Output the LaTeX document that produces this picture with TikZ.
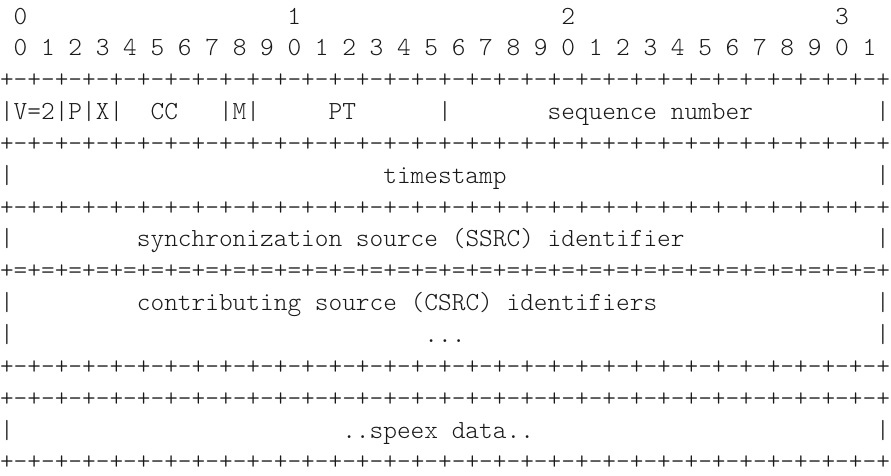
\documentclass[tikz,border=0pt]{standalone}
\usepackage{fontspec}
\newfontfamily\lmlight{lmmonolt10-regular.otf}
\tikzset{
  mono/.style={anchor=base west, inner sep=0pt, outer sep=0pt,
    font=\frenchspacing\lmlight\fontsize{26.08}{26}\selectfont, text=black!90},
}
\def\pd{+-+-+-+-}
\def\pe{+=+=+=+=}
\def\dashline{\pd\pd\pd\pd\pd\pd\pd\pd+}
\def\eqline{\pe\pe\pe\pe\pe\pe\pe\pe+}
\begin{document}
\begin{tikzpicture}[x=13.69pt, y=-31.85pt]
\useasboundingbox (0,0) rectangle (65.084,14.9137);
\def\b{0.7535}
% row 0: byte numbers
\node[mono] (r0a) at (1,0+\b) {0};
\node[mono] (r0b) at (21,0+\b) {1};
\node[mono] (r0c) at (41,0+\b) {2};
\node[mono] (r0d) at (61,0+\b) {3};
% row 1: bit numbers
\node[mono] (r1) at (1,1+\b) {0 1 2 3 4 5 6 7 8 9 0 1 2 3 4 5 6 7 8 9 0 1 2 3 4 5 6 7 8 9 0 1};
% row 2
\node[mono] (r2) at (0,2+\b) {\dashline};
% row 3
\node[mono] (r3a) at (0,3+\b) {|V=2|P|X|};
\node[mono] (r3b) at (11,3+\b) {CC};
\node[mono] (r3c) at (16,3+\b) {|M|};
\node[mono] (r3d) at (24,3+\b) {PT};
\node[mono] (r3e) at (32,3+\b) {|};
\node[mono] (r3f) at (40,3+\b) {sequence number};
\node[mono] (r3g) at (64,3+\b) {|};
% row 4
\node[mono] (r4) at (0,4+\b) {\dashline};
% row 5
\node[mono] (r5a) at (0,5+\b) {|};
\node[mono] (r5b) at (28,5+\b) {timestamp};
\node[mono] (r5c) at (64,5+\b) {|};
% row 6
\node[mono] (r6) at (0,6+\b) {\dashline};
% row 7
\node[mono] (r7a) at (0,7+\b) {|};
\node[mono] (r7b) at (10,7+\b) {synchronization source (SSRC) identifier};
\node[mono] (r7c) at (64,7+\b) {|};
% row 8
\node[mono] (r8) at (0,8+\b) {\eqline};
% row 9
\node[mono] (r9a) at (0,9+\b) {|};
\node[mono] (r9b) at (10,9+\b) {contributing source (CSRC) identifiers};
\node[mono] (r9c) at (64,9+\b) {|};
% row 10
\node[mono] (r10a) at (0,10+\b) {|};
\node[mono] (r10b) at (31,10+\b) {...};
\node[mono] (r10c) at (64,10+\b) {|};
% rows 11, 12
\node[mono] (r11) at (0,11+\b) {\dashline};
\node[mono] (r12) at (0,12+\b) {\dashline};
% row 13
\node[mono] (r13a) at (0,13+\b) {|};
\node[mono] (r13b) at (25,13+\b) {..speex data..};
\node[mono] (r13c) at (64,13+\b) {|};
% row 14
\node[mono] (r14) at (0,14+\b) {\dashline};
\end{tikzpicture}
\end{document}
